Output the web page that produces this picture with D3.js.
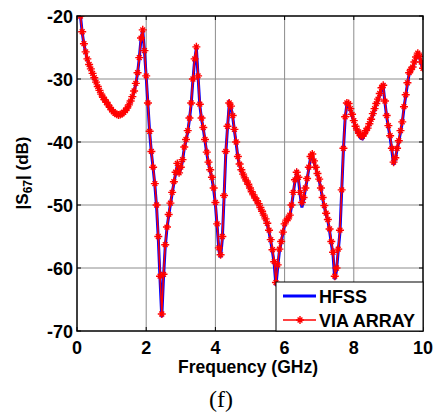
<!DOCTYPE html>
<html>
<head>
<meta charset="utf-8">
<script src="https://d3js.org/d3.v7.min.js"></script>
<style>
  body { margin: 0; background: #fff; }
  text { font-family: "Liberation Sans", Arial, sans-serif; }
</style>
</head>
<body>
<script>
// sampling grid: 0.1 .. 10 GHz, 0.05 GHz step
var freq = d3.range(0, 199).map(function (i) { return +(0.1 + i * 0.05).toFixed(2); });

var viaArray = [
  -20.0, -22.5, -24.4, -25.7, -26.8, -27.7, -28.4, -29.1, -29.8, -30.5,
  -31.2, -31.8, -32.4, -32.9, -33.3, -33.7, -34.1, -34.5, -34.9, -35.2,
  -35.45, -35.6, -35.7, -35.65, -35.5, -35.3, -35.0, -34.6, -34.1, -33.5,
  -32.8, -31.9, -30.7, -29.0, -26.6, -23.5, -22.2, -25.5, -29.5, -33.8,
  -38.3, -41.5, -44.0, -46.6, -50.0, -55.0, -61.3, -67.3, -61.0, -56.3,
  -53.5, -51.5, -49.7, -48.0, -46.3, -44.8, -43.4, -44.9, -44.0, -42.8,
  -40.8, -39.6, -38.2, -36.2, -33.8, -30.0, -26.8, -24.9, -29.5, -34.0,
  -36.2, -37.7, -39.6, -41.6, -43.2, -44.4, -45.6, -47.3, -49.6, -53.0,
  -56.8, -57.9, -55.0, -48.5, -41.5, -37.5, -33.8, -34.3, -35.8, -38.0,
  -40.0, -42.3, -43.5, -44.4, -45.1, -45.7, -46.2, -46.7, -47.3, -47.9,
  -48.4, -48.9, -49.3, -49.8, -50.4, -51.0, -51.6, -52.2, -52.9, -54.0,
  -55.5, -57.1, -59.0, -62.3, -59.5, -57.0, -55.8, -54.3, -53.0, -52.4,
  -52.2, -51.6, -50.0, -48.0, -46.0, -44.8, -45.6, -48.0, -49.6, -48.8,
  -47.3, -45.8, -44.0, -42.3, -41.9, -43.0, -44.0, -45.0, -45.9, -47.3,
  -48.8, -50.1, -51.3, -52.3, -53.8, -55.8, -57.5, -61.3, -60.0, -57.0,
  -54.0, -47.6, -41.0, -36.0, -33.8, -33.9, -34.7, -35.6, -36.6, -37.5,
  -38.1, -38.6, -39.0, -39.1, -38.7, -38.2, -37.8, -37.1, -36.4, -35.5,
  -34.7, -33.9, -33.2, -32.3, -31.4, -31.0, -33.5, -35.8, -37.4, -39.0,
  -41.0, -43.2, -42.5, -41.0, -39.8, -38.2, -36.8, -34.4, -32.5, -30.6,
  -29.0, -28.5, -28.1, -27.3, -26.5, -25.9, -26.4, -27.3, -28.3
];

var hfss = [
  -20.0, -22.6, -24.5, -25.8, -26.9, -27.8, -28.5, -29.2, -29.9, -30.6,
  -31.3, -31.9, -32.5, -33.0, -33.4, -33.8, -34.2, -34.6, -35.0, -35.3,
  -35.55, -35.7, -35.8, -35.75, -35.6, -35.4, -35.1, -34.7, -34.2, -33.6,
  -32.9, -32.0, -30.8, -29.1, -26.7, -23.6, -22.3, -25.6, -29.7, -34.0,
  -38.5, -41.7, -44.2, -46.8, -50.3, -55.4, -61.8, -67.8, -61.5, -56.6,
  -53.7, -51.7, -49.9, -48.2, -46.5, -45.0, -43.6, -45.1, -44.2, -43.0,
  -41.0, -39.8, -38.4, -36.4, -34.0, -30.2, -27.0, -25.1, -29.7, -34.2,
  -36.4, -37.9, -39.8, -41.8, -43.4, -44.6, -45.8, -47.5, -49.9, -53.3,
  -57.2, -58.3, -55.4, -48.8, -41.8, -37.7, -34.0, -34.5, -36.0, -38.2,
  -40.2, -42.5, -43.7, -44.6, -45.3, -45.9, -46.4, -46.9, -47.5, -48.1,
  -48.6, -49.1, -49.5, -50.0, -50.6, -51.2, -51.8, -52.4, -53.1, -54.3,
  -55.8, -57.4, -59.4, -62.8, -59.9, -57.3, -56.0, -54.5, -53.2, -52.6,
  -52.4, -51.8, -50.2, -48.2, -46.2, -45.0, -45.9, -48.4, -50.4, -49.2,
  -47.5, -46.0, -44.2, -42.5, -42.1, -43.2, -44.2, -45.2, -46.1, -47.5,
  -49.0, -50.3, -51.5, -52.5, -54.1, -56.1, -57.9, -61.8, -60.4, -57.3,
  -54.3, -47.8, -41.2, -36.2, -34.0, -34.1, -34.9, -35.8, -36.8, -37.7,
  -38.4, -38.9, -39.4, -39.5, -39.0, -38.4, -38.0, -37.3, -36.6, -35.7,
  -34.9, -34.1, -33.4, -32.5, -31.6, -31.2, -33.7, -36.0, -37.6, -39.3,
  -41.3, -43.6, -42.8, -41.2, -40.0, -38.4, -37.0, -34.6, -32.7, -30.8,
  -29.2, -28.7, -28.3, -27.5, -26.7, -26.1, -26.6, -27.5, -28.5
];

var xTicks = [0, 2, 4, 6, 8, 10];
var yTicks = [-20, -30, -40, -50, -60, -70];
var seriesNames = ["HFSS", "VIA ARRAY"];

var W = 439, H = 417;
// plot box edges (top is reserved on window, so use short names)
var pl = 77, pr = 423, pt = 16, pb = 331;

var svg = d3.select("body").append("svg")
    .attr("width", W)
    .attr("height", H);

var x = d3.scaleLinear().domain([0, 10]).range([pl, pr]);
var y = d3.scaleLinear().domain([-70, -20]).range([pb, pt]);

// clip so lines stay inside the box
svg.append("clipPath").attr("id", "plotclip")
  .append("rect")
    .attr("x", pl).attr("y", pt)
    .attr("width", pr - pl).attr("height", pb - pt);

// grid
var grid = svg.append("g");
grid.selectAll("line.vx")
    .data(xTicks.slice(1, -1))
  .enter().append("line")
    .attr("x1", function (d) { return x(d); })
    .attr("x2", function (d) { return x(d); })
    .attr("y1", pt).attr("y2", pb)
    .style("stroke", "#8c8c8c").style("stroke-width", 1);
grid.selectAll("line.hy")
    .data(yTicks.slice(1, -1))
  .enter().append("line")
    .attr("y1", function (d) { return y(d); })
    .attr("y2", function (d) { return y(d); })
    .attr("x1", pl).attr("x2", pr)
    .style("stroke", "#8c8c8c").style("stroke-width", 1);

// inward ticks on all sides, matlab style
var tk = 4;
var ticks = svg.append("g").style("stroke", "#000").style("stroke-width", 1);
xTicks.forEach(function (d) {
  ticks.append("line").attr("x1", x(d)).attr("x2", x(d)).attr("y1", pb).attr("y2", pb - tk);
  ticks.append("line").attr("x1", x(d)).attr("x2", x(d)).attr("y1", pt).attr("y2", pt + tk);
});
yTicks.forEach(function (d) {
  ticks.append("line").attr("x1", pl).attr("x2", pl + tk).attr("y1", y(d)).attr("y2", y(d));
  ticks.append("line").attr("x1", pr).attr("x2", pr - tk).attr("y1", y(d)).attr("y2", y(d));
});

var line = d3.line()
    .x(function (d) { return x(d[0]); })
    .y(function (d) { return y(d[1]); });

var plot = svg.append("g").attr("clip-path", "url(#plotclip)");

plot.append("path")
    .datum(d3.zip(freq, hfss))
    .attr("d", line)
    .style("fill", "none")
    .style("stroke", "#0000ff")
    .style("stroke-width", 3);

var viaPts = d3.zip(freq, viaArray);
plot.append("path")
    .datum(viaPts)
    .attr("d", line)
    .style("fill", "none")
    .style("stroke", "#ff0000")
    .style("stroke-width", 1.5);

// asterisk marker
function star(s) {
  var a = s * 0.6;
  return "M" + (-s) + ",0L" + s + ",0M0," + (-s) + "L0," + s +
         "M" + (-a) + "," + (-a) + "L" + a + "," + a +
         "M" + (-a) + "," + a + "L" + a + "," + (-a);
}

plot.selectAll("path.mk")
    .data(viaPts)
  .enter().append("path")
    .attr("class", "mk")
    .attr("transform", function (d) { return "translate(" + x(d[0]) + "," + y(d[1]) + ")"; })
    .attr("d", star(4))
    .style("fill", "none")
    .style("stroke", "#ff0000")
    .style("stroke-width", 1.4);

// box
svg.append("rect")
    .attr("x", pl).attr("y", pt)
    .attr("width", pr - pl).attr("height", pb - pt)
    .style("fill", "none").style("stroke", "#000").style("stroke-width", 1.5);

// tick labels
svg.selectAll("text.xl")
    .data(xTicks)
  .enter().append("text")
    .attr("x", function (d) { return x(d); })
    .attr("y", 354)
    .attr("text-anchor", "middle")
    .style("font-size", "18px").style("font-weight", "bold")
    .text(function (d) { return d; });

svg.selectAll("text.yl")
    .data(yTicks)
  .enter().append("text")
    .attr("x", 73)
    .attr("y", function (d) { return y(d) + 6.5; })
    .attr("text-anchor", "end")
    .style("font-size", "18px").style("font-weight", "bold")
    .text(function (d) { return d; });

// axis titles
svg.append("text")
    .attr("x", 248).attr("y", 373)
    .attr("text-anchor", "middle")
    .style("font-size", "17.5px").style("font-weight", "bold")
    .text("Frequency (GHz)");

var yl = svg.append("text")
    .attr("transform", "translate(28,173) rotate(-90)")
    .attr("text-anchor", "middle")
    .style("font-size", "17px").style("font-weight", "bold");
yl.append("tspan").text("|S");
yl.append("tspan").attr("dy", 4).style("font-size", "12px").text("67");
yl.append("tspan").attr("dy", -4).text("| (dB)");

svg.append("text")
    .attr("x", 221).attr("y", 407)
    .attr("text-anchor", "middle")
    .style("font-family", "'Liberation Serif', 'Times New Roman', serif")
    .style("font-size", "24px")
    .text("(f)");

// legend
var lg = svg.append("g");
lg.append("rect")
    .attr("x", 276).attr("y", 282)
    .attr("width", pr - 276).attr("height", pb - 282)
    .style("fill", "#fff").style("stroke", "#000").style("stroke-width", 1);

var legY = [296, 320];
lg.selectAll("line.lg")
    .data(seriesNames)
  .enter().append("line")
    .attr("x1", 283).attr("x2", 316)
    .attr("y1", function (d, i) { return legY[i]; })
    .attr("y2", function (d, i) { return legY[i]; })
    .style("stroke", function (d, i) { return i === 0 ? "#0000ff" : "#ff0000"; })
    .style("stroke-width", function (d, i) { return i === 0 ? 3 : 1.5; });
lg.append("path")
    .attr("transform", "translate(300," + legY[1] + ")")
    .attr("d", star(4))
    .style("fill", "none").style("stroke", "#ff0000").style("stroke-width", 1.4);
lg.selectAll("text.lg")
    .data(seriesNames)
  .enter().append("text")
    .attr("x", 319)
    .attr("y", function (d, i) { return legY[i] + 7; })
    .style("font-size", "18px").style("font-weight", "bold")
    .text(function (d) { return d; });
</script>
</body>
</html>
